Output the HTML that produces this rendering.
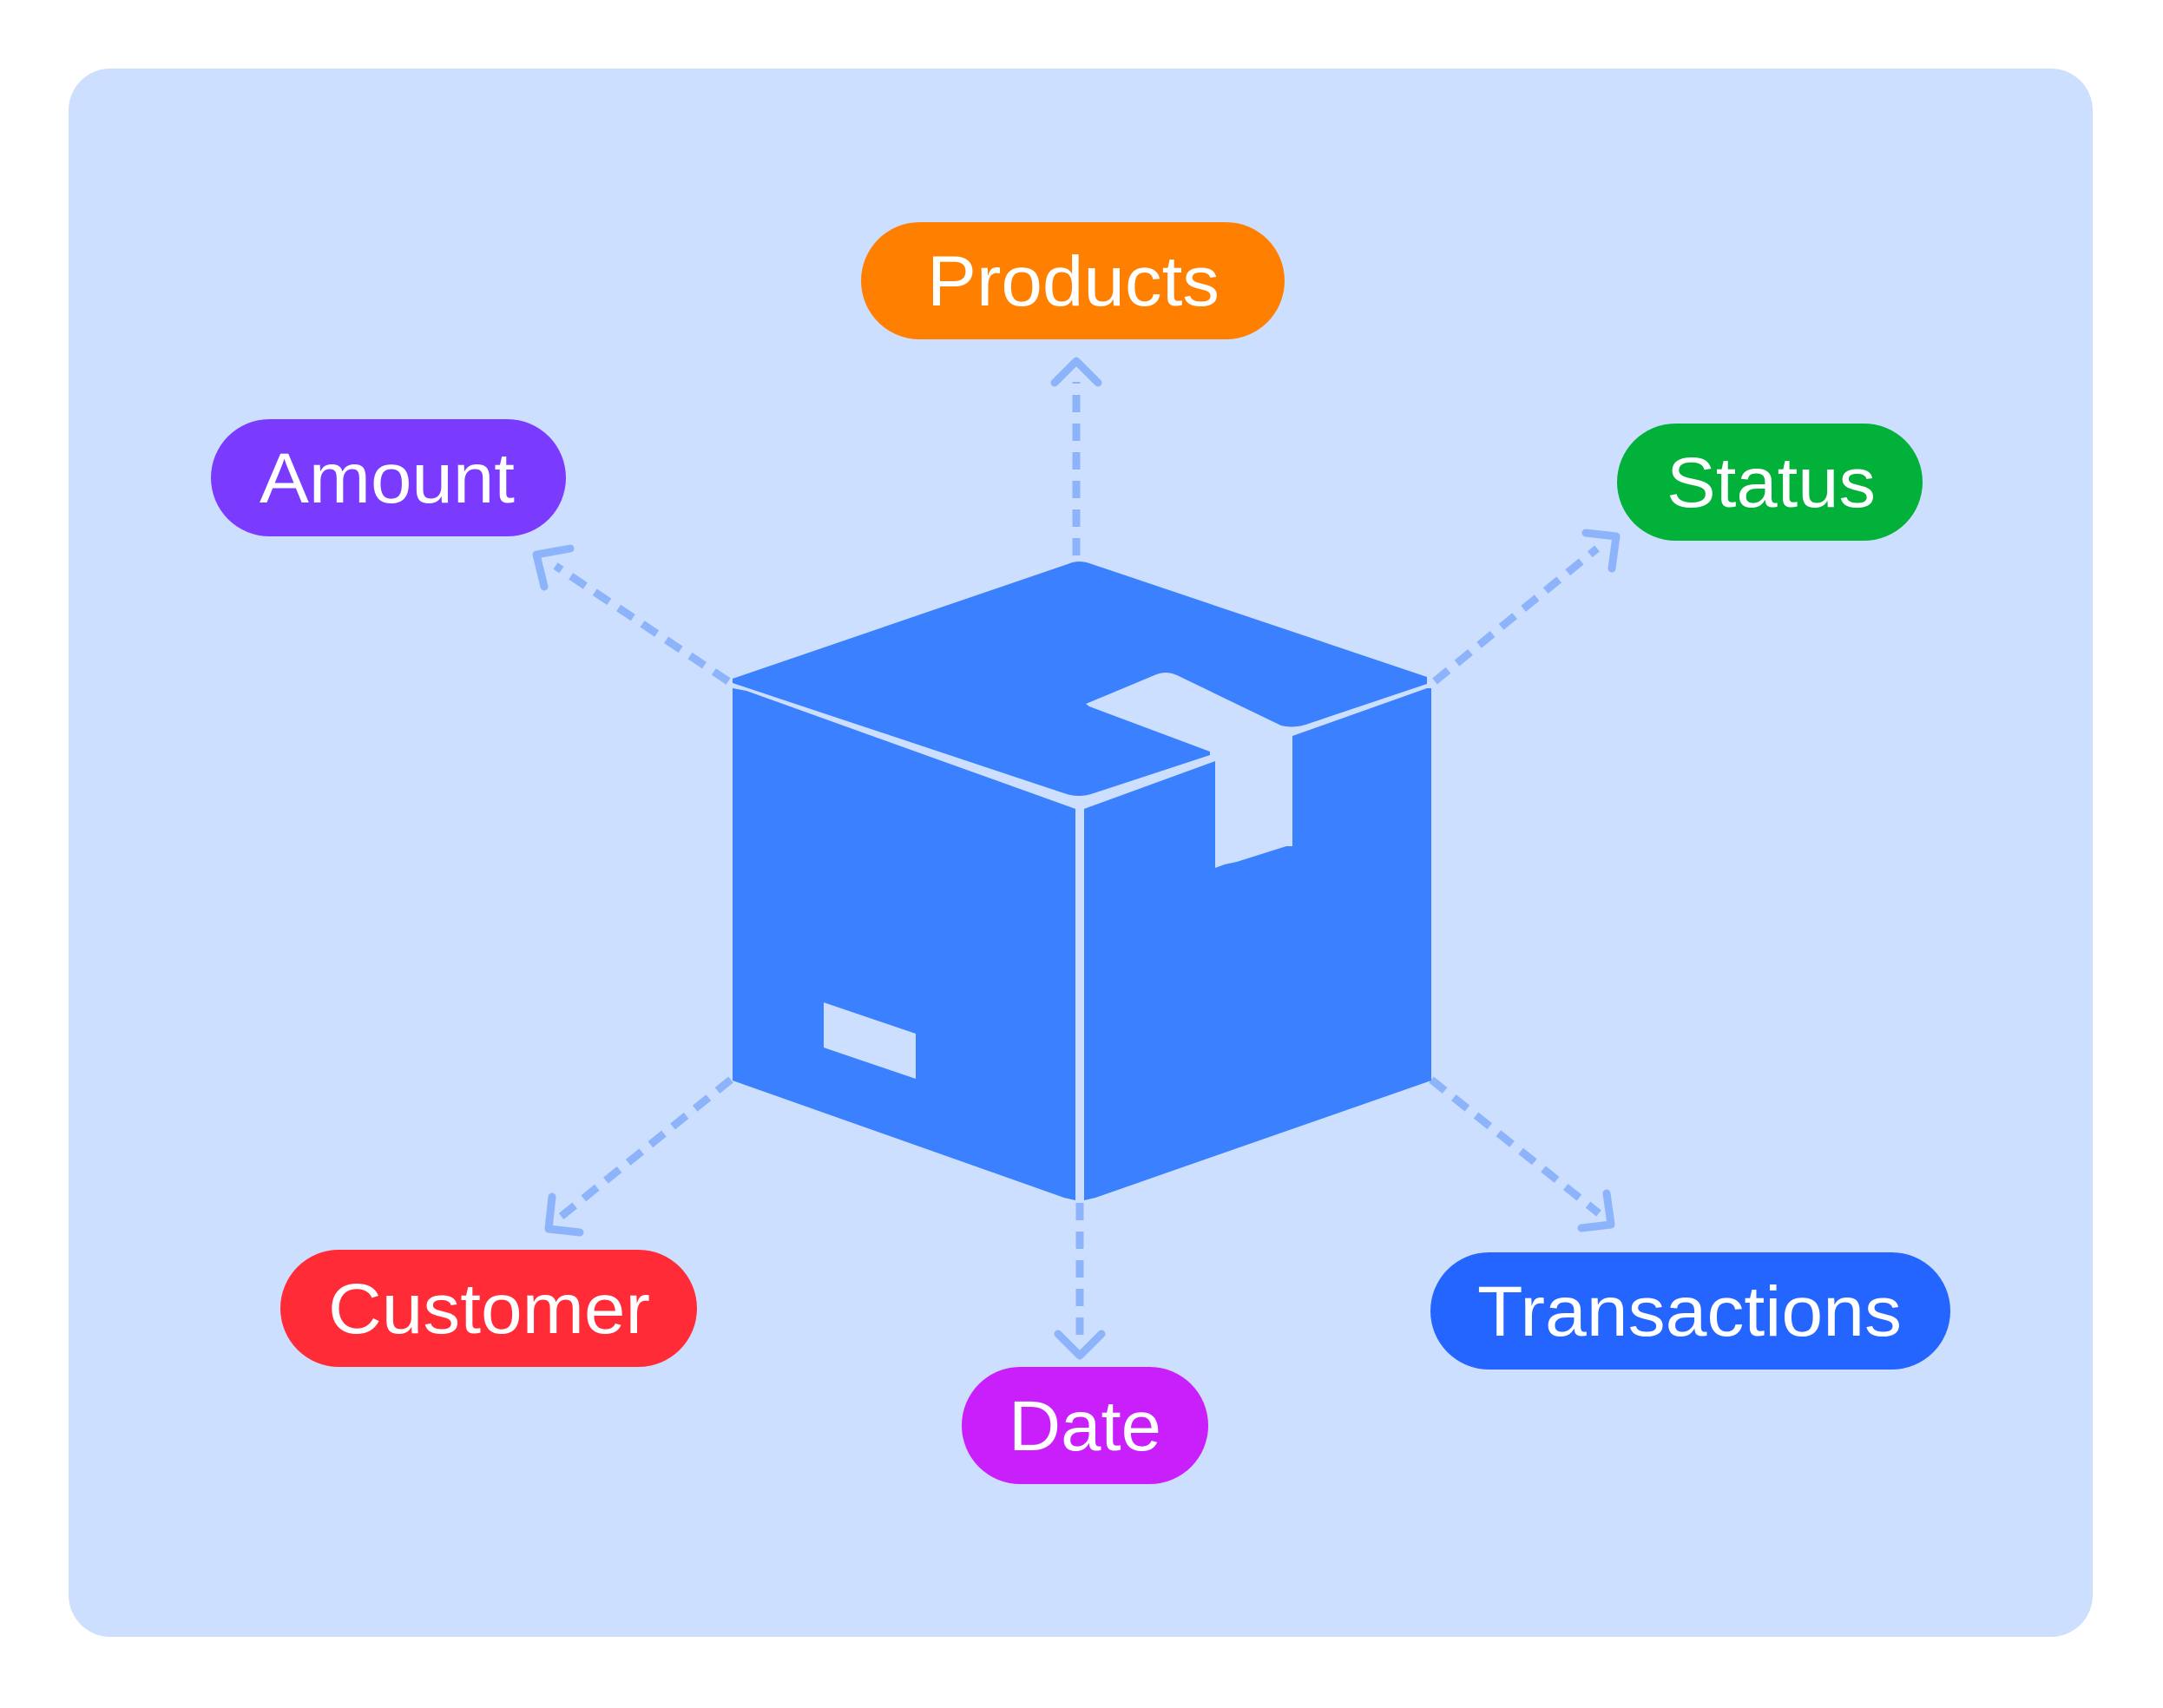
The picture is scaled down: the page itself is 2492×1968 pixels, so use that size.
<!DOCTYPE html>
<html><head><meta charset="utf-8"><style>
html,body{margin:0;padding:0;background:#fff;}
svg{display:block;}
text{font-family:"Liberation Sans",sans-serif;fill:#fff;font-size:82px;}
</style></head><body>
<svg width="2492" height="1968" viewBox="0 0 2492 1968" xmlns="http://www.w3.org/2000/svg">
<rect x="79" y="79" width="2332" height="1807" rx="48" fill="#cddffe"/>
<g stroke="#8db4fa" stroke-width="9" fill="none" stroke-dasharray="20 13">
<line x1="1240" y1="640" x2="1240" y2="440"/>
<line x1="839" y1="785" x2="640" y2="652"/>
<line x1="1653" y1="785" x2="1840" y2="632"/>
<line x1="842" y1="1244" x2="646" y2="1402"/>
<line x1="1649" y1="1244" x2="1842" y2="1398"/>
<line x1="1244" y1="1386" x2="1244" y2="1545"/>
</g>
<g stroke="#8db4fa" stroke-width="9" fill="none" stroke-linecap="round" stroke-linejoin="round">
<polyline points="1215,441 1240,416 1265,441"/>
<polyline points="657,632 618,639 627,676"/>
<polyline points="1827,614 1862,618 1857,655"/>
<polyline points="636,1379 632,1416 668,1420"/>
<polyline points="1851,1375 1856,1411 1822,1415"/>
<polyline points="1219,1537 1244,1562 1269,1537"/>
</g>
<g fill="#3a80ff">
<path d="M844,782 L1230,650 Q1243,644 1258,650 L1644,780 L1644,788 L1510,833 Q1492,840 1476,836 L1356,778 Q1343,772 1330,778 L1251,811 L1255,814 L1394,866 L1394,870 L1260,914 Q1243,920 1226,914 L844,787 Z"/>
<path d="M844,793 L860,796 L1239,932 L1239,1383 L1226,1380 L844,1245 Z"/>
<path d="M1249,932 L1400,877 L1400,1000 L1411,996 L1425,993 L1482,975 L1489,975 L1489,848 L1644,793 L1649,793 L1649,1245 L1262,1380 L1249,1383 Z"/>
</g>
<path d="M949,1155 L1055,1191 L1055,1243 L949,1207 Z" fill="#cddffe"/>
<rect x="992" y="256" width="488" height="135" rx="67.5" fill="#ff8000"/>
<text x="1068" y="352" textLength="337" lengthAdjust="spacingAndGlyphs">Products</text>
<rect x="243" y="483" width="409" height="135" rx="67.5" fill="#7b3bff"/>
<text x="299" y="579" textLength="294" lengthAdjust="spacingAndGlyphs">Amount</text>
<rect x="1863" y="488" width="352" height="135" rx="67.5" fill="#02b13a"/>
<text x="1920" y="584" textLength="241" lengthAdjust="spacingAndGlyphs">Status</text>
<rect x="323" y="1440" width="480" height="135" rx="67.5" fill="#ff2b36"/>
<text x="378" y="1536" textLength="371" lengthAdjust="spacingAndGlyphs">Customer</text>
<rect x="1108" y="1575" width="284" height="135" rx="67.5" fill="#c81ffb"/>
<text x="1162" y="1671" textLength="176" lengthAdjust="spacingAndGlyphs">Date</text>
<rect x="1648" y="1443" width="599" height="135" rx="67.5" fill="#2565ff"/>
<text x="1702" y="1539" textLength="489" lengthAdjust="spacingAndGlyphs">Transactions</text>
</svg>
</body></html>
